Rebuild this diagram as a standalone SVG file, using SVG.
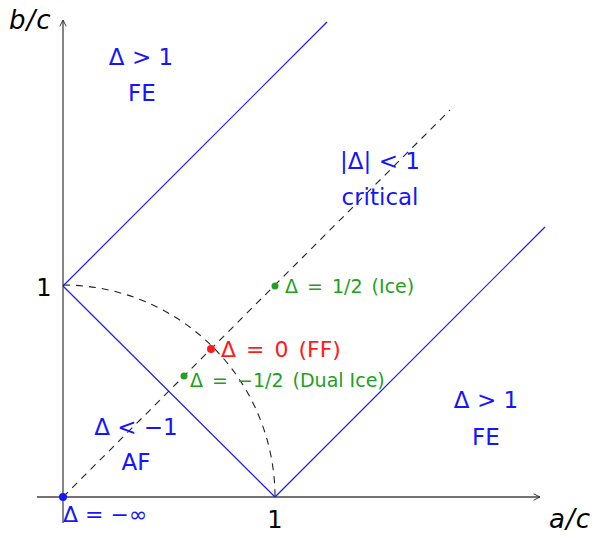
<svg xmlns="http://www.w3.org/2000/svg" width="596" height="538" viewBox="0 0 596 538">
<defs>
<marker id="arr" viewBox="0 0 10 10" refX="9" refY="5" markerWidth="8" markerHeight="8" orient="auto" markerUnits="userSpaceOnUse">
<path d="M1,1 L9,5 L1,9" fill="none" stroke="#333" stroke-width="1.2"/>
</marker>
<style>
text{font-family:"DejaVu Sans","Liberation Sans",sans-serif}
.ax{stroke:#444;stroke-width:1.3;fill:none}
.bl{stroke:#1a1aff;stroke-width:1.2;fill:none}
.da{stroke:#222;stroke-width:1.1;fill:none;stroke-dasharray:7,6}
.lb{fill:#1515ff;font-size:23px;text-anchor:middle}
.gr{fill:#22a022;font-size:19px}
.it{font-style:italic;font-size:26px;fill:#000;letter-spacing:1px}
</style>
</defs>
<g id="connectors">
<line class="ax" x1="37" y1="497" x2="540" y2="497" marker-end="url(#arr)"/>
<line class="ax" x1="63" y1="523" x2="63" y2="20" marker-end="url(#arr)"/>
<line class="bl" x1="63" y1="286" x2="327" y2="22"/>
<line class="bl" x1="63" y1="286" x2="275" y2="497"/>
<line class="bl" x1="275" y1="497" x2="545" y2="227"/>
<line class="da" x1="63" y1="497" x2="450" y2="110"/>
<path class="da" d="M63,285 A212,212 0 0 1 275,497"/>
</g>
<g id="axis-labels">
<text class="it" x="9" y="29">b/c</text>
<text class="it" x="549" y="528">a/c</text>
<text x="44" y="296" font-size="24" text-anchor="middle">1</text>
<text x="275" y="528" font-size="24" text-anchor="middle">1</text>
</g>
<g id="fe-top"><text class="lb" x="141" y="65">Δ &gt; 1</text><text class="lb" x="142" y="101">FE</text></g>
<g id="critical"><text class="lb" x="380" y="169">|Δ| &lt; 1</text><text class="lb" x="380" y="205">critical</text></g>
<g id="af"><text class="lb" x="136" y="435">Δ &lt; −1</text><text class="lb" x="136" y="470">AF</text></g>
<g id="fe-bottom"><text class="lb" x="486" y="408">Δ &gt; 1</text><text class="lb" x="486" y="445">FE</text></g>
<g id="ice"><circle cx="275" cy="286" r="3.5" fill="#22a022"/><text class="gr" x="285" y="293" word-spacing="3">Δ = 1/2 (Ice)</text></g>
<g id="ff"><circle cx="211" cy="349" r="4" fill="#ff1a1a"/><text x="221" y="357" font-size="22" fill="#ff1a1a" word-spacing="3">Δ = 0 (FF)</text></g>
<g id="dual-ice"><circle cx="184" cy="376" r="3.5" fill="#22a022"/><text class="gr" x="190" y="387" word-spacing="3">Δ = −1/2 <tspan word-spacing="0">(Dual Ice)</tspan></text></g>
<g id="af-limit"><circle cx="63" cy="497" r="4" fill="#1515ff"/><text x="63" y="522" font-size="22" fill="#1515ff">Δ = −∞</text></g>
</svg>
